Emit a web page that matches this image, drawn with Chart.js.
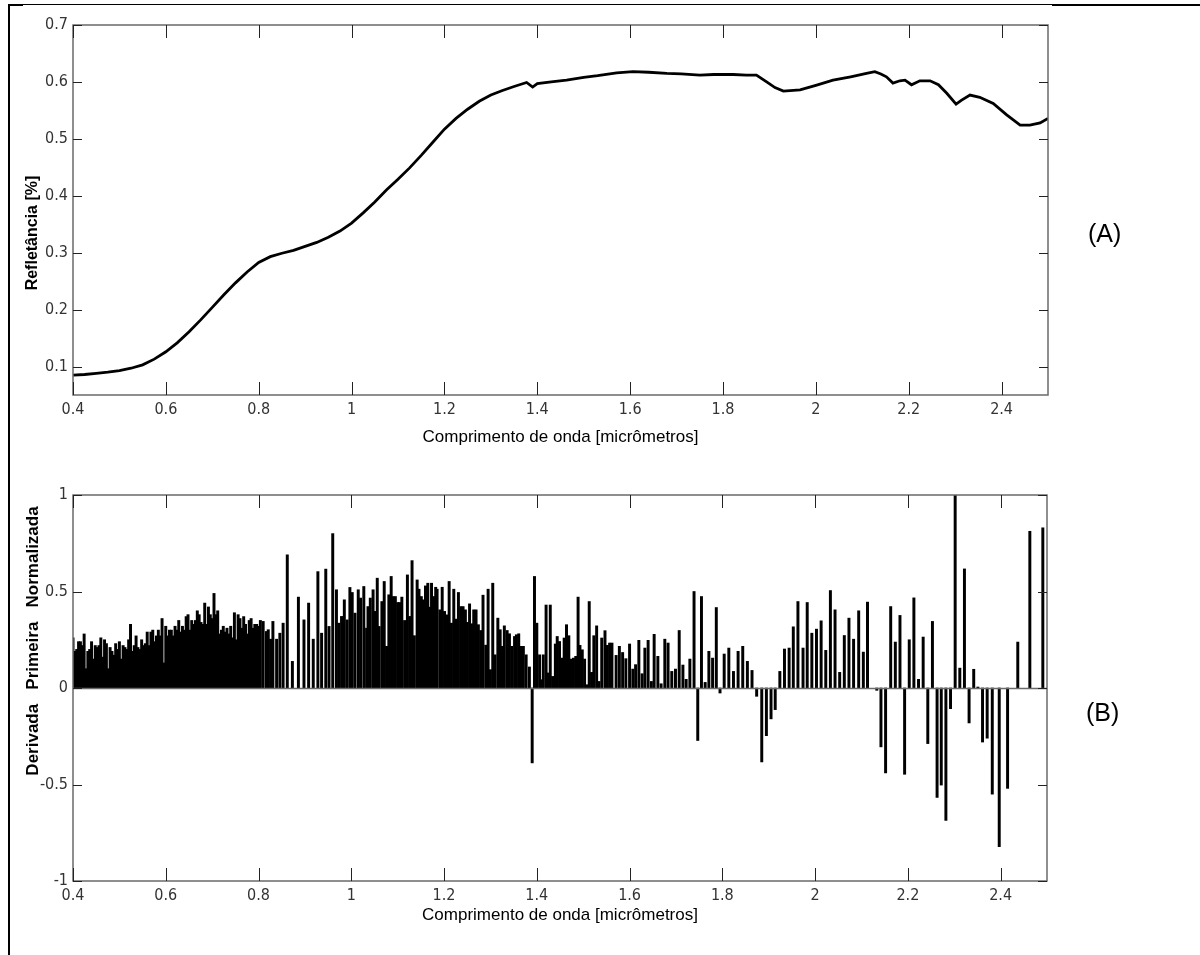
<!DOCTYPE html>
<html><head><meta charset="utf-8">
<script src="https://cdn.jsdelivr.net/npm/chart.js@4.4.1/dist/chart.umd.min.js"></script>
<style>
html,body{margin:0;padding:0;background:#fff;width:1200px;height:955px;overflow:hidden;position:relative;font-family:'Liberation Sans',Arial,sans-serif}
canvas{position:absolute;left:0}
#cA{top:0}
#cB{top:470px}
.lbl{position:absolute;font-size:25px;color:#000;line-height:30px}
.ln{position:absolute;background:#000}
</style></head><body>
<div class="ln" style="left:8px;top:4px;width:2px;height:951px"></div>
<div class="ln" style="left:8px;top:4px;width:1044px;height:1px"></div>
<div class="ln" style="left:8px;top:4px;width:15px;height:2px"></div>
<div class="ln" style="left:1052px;top:4px;width:148px;height:2px"></div>
<canvas id="cA" width="1200" height="470"></canvas>
<canvas id="cB" width="1200" height="485"></canvas>
<div class="lbl" style="left:1088px;top:218px">(A)</div>
<div class="lbl" style="left:1086px;top:697px">(B)</div>
<script>
// ---------- data ----------
const xTicks = [0.4,0.6,0.8,1.0,1.2,1.4,1.6,1.8,2.0,2.2,2.4];
const xTickLabels = ["0.4","0.6","0.8","1","1.2","1.4","1.6","1.8","2","2.2","2.4"];
const yTicksA = [0.1,0.2,0.3,0.4,0.5,0.6,0.7];
const yTickLabelsA = ["0.1","0.2","0.3","0.4","0.5","0.6","0.7"];
const yTicksB = [-1,-0.5,0,0.5,1];
const yTickLabelsB = ["-1","-0.5","0","0.5","1"];

const xTitle = "Comprimento de onda [micrômetros]";
const yTitleA = "Refletância [%]";
const yTitleB = "Derivada   Primeira   Normalizada";

// Reflectance spectrum (A)
const reflWl = [0.400,0.425,0.450,0.475,0.500,0.525,0.550,0.575,0.600,0.625,0.650,0.675,0.700,0.725,0.750,0.775,0.800,0.825,0.850,0.875,0.900,0.925,0.950,0.975,1.000,1.025,1.050,1.075,1.100,1.125,1.150,1.175,1.200,1.225,1.250,1.275,1.300,1.325,1.350,1.377,1.390,1.400,1.430,1.463,1.500,1.530,1.571,1.606,1.640,1.679,1.710,1.750,1.780,1.822,1.850,1.872,1.894,1.912,1.930,1.966,2.000,2.037,2.075,2.109,2.127,2.140,2.152,2.166,2.181,2.192,2.206,2.224,2.246,2.264,2.282,2.302,2.314,2.332,2.353,2.382,2.411,2.440,2.461,2.483,2.500];
const reflVal = [0.085,0.086,0.088,0.090,0.093,0.097,0.103,0.113,0.126,0.142,0.161,0.182,0.204,0.226,0.247,0.266,0.283,0.293,0.299,0.304,0.311,0.318,0.327,0.338,0.352,0.370,0.389,0.410,0.429,0.449,0.471,0.494,0.517,0.536,0.552,0.566,0.577,0.585,0.592,0.599,0.591,0.597,0.600,0.603,0.608,0.611,0.616,0.618,0.617,0.615,0.614,0.612,0.613,0.613,0.612,0.612,0.600,0.590,0.584,0.586,0.594,0.603,0.609,0.615,0.618,0.614,0.609,0.598,0.602,0.603,0.595,0.602,0.602,0.595,0.580,0.561,0.568,0.577,0.573,0.562,0.542,0.524,0.524,0.528,0.536];

// Normalized first derivative (B): dense part 0.4-0.8
const derivWlDense = [0.400,0.404,0.408,0.412,0.416,0.420,0.424,0.428,0.432,0.436,0.440,0.444,0.448,0.452,0.456,0.460,0.464,0.468,0.472,0.476,0.480,0.484,0.488,0.492,0.496,0.500,0.504,0.508,0.512,0.516,0.520,0.524,0.528,0.532,0.536,0.540,0.544,0.548,0.552,0.556,0.560,0.564,0.568,0.572,0.576,0.580,0.584,0.588,0.592,0.596,0.600,0.604,0.608,0.612,0.616,0.620,0.624,0.628,0.632,0.636,0.640,0.644,0.648,0.652,0.656,0.660,0.664,0.668,0.672,0.676,0.680,0.684,0.688,0.692,0.696,0.700,0.704,0.708,0.712,0.716,0.720,0.724,0.728,0.732,0.736,0.740,0.744,0.748,0.752,0.756,0.760,0.764,0.768,0.772,0.776,0.780,0.784,0.788,0.792,0.796,0.800];
const derivValDense = [0.26,0.19,0.20,0.24,0.24,0.22,0.28,0.10,0.19,0.20,0.24,0.15,0.22,0.21,0.22,0.26,0.16,0.25,0.23,0.10,0.21,0.19,0.17,0.23,0.20,0.24,0.15,0.22,0.21,0.20,0.25,0.33,0.19,0.22,0.27,0.21,0.20,0.25,0.22,0.23,0.29,0.22,0.29,0.30,0.24,0.27,0.30,0.27,0.36,0.13,0.32,0.27,0.30,0.30,0.27,0.32,0.30,0.35,0.29,0.32,0.30,0.37,0.38,0.30,0.35,0.33,0.35,0.40,0.38,0.34,0.33,0.44,0.33,0.42,0.38,0.36,0.49,0.38,0.40,0.28,0.30,0.32,0.29,0.31,0.28,0.32,0.26,0.39,0.25,0.38,0.36,0.31,0.37,0.33,0.28,0.35,0.36,0.31,0.33,0.33,0.32];
// sparse part 0.8-2.5
const derivWlSparse = [0.804,0.810,0.817,0.821,0.826,0.831,0.839,0.846,0.853,0.862,0.873,0.886,0.898,0.908,0.918,0.928,0.936,0.945,0.952,0.960,0.968,0.973,0.979,0.985,0.991,0.997,1.002,1.008,1.015,1.020,1.027,1.033,1.036,1.041,1.047,1.051,1.056,1.060,1.066,1.071,1.076,1.081,1.086,1.090,1.095,1.100,1.104,1.109,1.115,1.121,1.126,1.131,1.136,1.142,1.146,1.151,1.155,1.160,1.165,1.169,1.173,1.178,1.182,1.185,1.191,1.196,1.201,1.206,1.211,1.216,1.221,1.225,1.231,1.236,1.241,1.246,1.250,1.255,1.260,1.264,1.269,1.274,1.279,1.284,1.290,1.295,1.300,1.305,1.310,1.316,1.321,1.325,1.330,1.336,1.341,1.346,1.352,1.356,1.361,1.366,1.371,1.377,1.384,1.390,
1.395,1.400,1.406,1.410,1.414,1.420,1.424,1.429,1.434,1.440,1.444,1.449,1.455,1.459,1.464,1.469,1.474,1.479,1.484,1.489,1.493,1.498,1.503,1.508,1.513,1.518,1.523,1.529,1.534,1.540,1.547,1.552,1.557,1.562,1.571,1.578,1.585,1.592,1.600,1.607,1.613,1.620,1.627,1.633,1.640,1.647,1.653,1.661,1.668,1.676,1.683,1.691,1.699,1.707,1.715,1.722,1.730,1.739,1.747,1.755,1.763,1.771,1.779,1.787,1.795,1.804,1.814,1.824,1.834,1.844,1.854,1.864,1.874,1.885,1.895,1.905,1.914,1.924,1.934,1.944,1.953,1.963,1.974,1.983,1.993,2.003,2.013,2.023,2.033,2.043,2.053,2.063,2.073,2.083,2.094,2.104,2.113,
2.133,2.142,2.152,2.163,2.173,2.183,2.193,2.203,2.213,2.223,2.233,2.243,2.253,2.263,2.272,2.282,2.292,2.302,2.312,2.322,2.332,2.342,2.351,2.361,2.371,2.382,2.397,2.415,2.437,2.463,2.491];
const derivValSparse = [0.35,0.345,0.293,0.302,0.253,0.345,0.253,0.284,0.336,0.69,0.138,0.471,0.353,0.44,0.253,0.603,0.284,0.616,0.319,0.80,0.509,0.336,0.371,0.457,0.353,0.521,0.495,0.388,0.509,0.466,0.526,0.31,0.422,0.466,0.509,0.397,0.569,0.319,0.448,0.552,0.216,0.483,0.578,0.474,0.474,0.443,0.443,0.471,0.35,0.586,0.371,0.66,0.271,0.56,0.512,0.474,0.457,0.529,0.543,0.419,0.543,0.474,0.522,0.512,0.405,0.522,0.397,0.379,0.552,0.336,0.512,0.357,0.495,0.422,0.422,0.405,0.34,0.436,0.333,0.405,0.405,0.328,0.298,0.481,0.222,0.512,0.095,0.543,0.172,0.362,0.302,0.216,0.322,0.298,0.281,0.216,0.267,0.276,0.281,0.216,0.216,0.172,0.109,-0.388,
0.578,0.336,0.172,0.043,0.172,0.43,0.078,0.43,0.060,0.228,0.267,0.241,0.155,0.259,0.328,0.271,0.150,0.155,0.164,0.471,0.221,0.198,0.150,0.017,0.448,0.081,0.271,0.322,0.034,0.259,0.297,0.221,0.233,0.233,0.169,0.216,0.184,0.152,0.228,0.098,0.121,0.247,0.074,0.207,0.247,0.034,0.278,0.164,0.022,0.253,0.233,0.086,0.098,0.298,0.119,0.045,0.150,0.50,-0.272,0.474,0.029,0.190,0.155,0.417,-0.026,0.176,0.207,0.086,0.190,0.216,0.138,0.091,-0.043,-0.383,-0.247,-0.160,-0.112,0.086,0.202,0.207,0.317,0.448,0.207,0.443,0.284,0.305,0.348,0.195,0.505,0.405,0.081,0.272,0.362,0.253,0.400,0.186,0.445,
-0.012,-0.305,-0.44,0.422,0.238,0.376,-0.447,0.25,0.467,0.045,0.264,-0.288,0.345,-0.567,-0.503,-0.686,-0.107,1.0,0.103,0.617,-0.181,0.097,0.005,-0.28,-0.26,-0.55,-0.822,-0.52,0.238,0.812,0.83];

// ---------- helpers ----------
const tickFont = {family:"'Liberation Sans Narrow','DejaVu Sans Condensed','Liberation Sans',sans-serif", size:16};
const titleFont = {family:"'Liberation Sans',Arial,sans-serif", size:17};

const framePlugin = {
  id:'frame',
  afterDatasetsDraw(chart, args, opts){
    const {ctx, chartArea:{left,right,top,bottom}, scales:{x,y}} = chart;
    ctx.save();
    if (opts.zeroLine){
      const py = Math.round(y.getPixelForValue(0))+0.5;
      ctx.strokeStyle='#6a6a6a'; ctx.lineWidth=1.5;
      ctx.beginPath(); ctx.moveTo(left,py); ctx.lineTo(right,py); ctx.stroke();
    }
    ctx.strokeStyle='#6a6a6a'; ctx.lineWidth=1.5;
    ctx.strokeRect(left,top,right-left,bottom-top);
    ctx.strokeStyle='#222'; ctx.lineWidth=1;
    x.ticks.forEach(t=>{
      const px=Math.round(x.getPixelForValue(t.value))+0.5;
      ctx.beginPath(); ctx.moveTo(px,bottom); ctx.lineTo(px,bottom-13);
      ctx.moveTo(px,top); ctx.lineTo(px,top+13); ctx.stroke();
    });
    y.ticks.forEach(t=>{
      const py=Math.round(y.getPixelForValue(t.value))+0.5;
      ctx.beginPath(); ctx.moveTo(left,py); ctx.lineTo(left+9,py);
      ctx.moveTo(right,py); ctx.lineTo(right-9,py); ctx.stroke();
    });
    // y title
    ctx.fillStyle='#000';
    ctx.font = "bold " + opts.titleSize + "px 'Liberation Sans',Arial,sans-serif";
    ctx.textAlign='center'; ctx.textBaseline='middle';
    ctx.translate(opts.titleX, opts.titleY);
    ctx.rotate(-Math.PI/2);
    ctx.fillText(opts.title,0,0);
    ctx.restore();
  }
};

function xScale(axisHeight){
  return {
    type:'linear', min:0.4, max:2.5, offset:false,
    grid:{display:false, drawTicks:false, offset:false}, border:{display:false},
    afterBuildTicks:(s)=>{ s.ticks = xTicks.map(v=>({value:v})); },
    afterFit:(s)=>{ s.height = axisHeight; },
    ticks:{ padding:5, color:'#333', font:tickFont, maxRotation:0, autoSkip:false,
      callback:(v)=>{ const i = xTicks.findIndex(t=>Math.abs(t-v)<1e-6); return i>=0 ? xTickLabels[i] : ''; } },
    title:{display:true, text:xTitle, color:'#000', font:titleFont, padding:{top:4,bottom:4}}
  };
}
function yScale(min,max,vals,labels){
  return {
    type:'linear', min:min, max:max,
    grid:{display:false, drawTicks:false}, border:{display:false},
    afterBuildTicks:(s)=>{ s.ticks = vals.map(v=>({value:v})); },
    afterFit:(s)=>{ s.width = 73; },
    ticks:{ padding:5, color:'#333', font:tickFont, autoSkip:false,
      callback:(v)=>{ const i = vals.findIndex(t=>Math.abs(t-v)<1e-6); return i>=0 ? labels[i] : ''; } }
  };
}

// ---------- chart A ----------
new Chart(document.getElementById('cA'), {
  type:'line',
  data:{ datasets:[{
    data: reflWl.map((w,i)=>({x:w, y:reflVal[i]})),
    borderColor:'#000', borderWidth:2.8, pointRadius:0, tension:0, fill:false
  }]},
  options:{
    responsive:false, animation:false, devicePixelRatio:1,
    layout:{padding:{left:0, top:25, right:152, bottom:18}},
    plugins:{legend:{display:false}, tooltip:{enabled:false},
      frame:{zeroLine:false, title:yTitleA, titleX:33, titleY:233, titleSize:16}},
    scales:{ x:xScale(57), y:yScale(0.05,0.7,yTicksA,yTickLabelsA) }
  },
  plugins:[framePlugin]
});

// ---------- chart B ----------
const barData = derivWlDense.map((w,i)=>({x:w, y:derivValDense[i]}))
  .concat(derivWlSparse.map((w,i)=>({x:w, y:derivValSparse[i]})));
new Chart(document.getElementById('cB'), {
  type:'bar',
  data:{ datasets:[{
    data: barData, backgroundColor:'#000', borderWidth:0, barThickness:2.3, grouped:false
  }]},
  options:{
    responsive:false, animation:false, devicePixelRatio:1,
    layout:{padding:{left:0, top:25, right:153, bottom:25}},
    plugins:{legend:{display:false}, tooltip:{enabled:false},
      frame:{zeroLine:true, title:yTitleB, titleX:33, titleY:171, titleSize:17}},
    scales:{ x:xScale(49), y:yScale(-1,1,yTicksB,yTickLabelsB) }
  },
  plugins:[framePlugin]
});
</script>
</body></html>
